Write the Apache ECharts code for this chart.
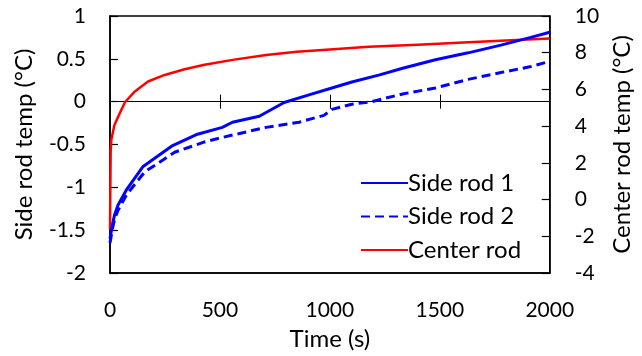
<!DOCTYPE html>
<html>
<head>
<meta charset="utf-8">
<script src="https://cdn.jsdelivr.net/npm/echarts@6/dist/echarts.min.js"></script>
<style>
  html, body { margin: 0; padding: 0; background: #fff; }
  #chart { width: 642px; height: 356px; }
</style>
</head>
<body>
<div id="chart"></div>
<script>
// values
const sideTime1 = [0, 10, 20, 36, 77, 149, 280, 398, 511, 557, 679, 792, 905, 1009, 1100, 1222, 1331, 1480, 1629, 1778, 1914, 2000];
const side1 = [-1.6, -1.45, -1.33, -1.21, -1.02, -0.76, -0.52, -0.38, -0.3, -0.24, -0.17, -0.01, 0.08, 0.16, 0.23, 0.31, 0.39, 0.49, 0.57, 0.66, 0.75, 0.81];

const sideTime2 = [0, 10, 20, 36, 77, 158, 294, 430, 507, 557, 710, 860, 973, 1009, 1100, 1190, 1331, 1480, 1629, 1778, 1914, 2000];
const side2 = [-1.65, -1.5, -1.38, -1.27, -1.08, -0.82, -0.59, -0.47, -0.42, -0.39, -0.3, -0.24, -0.16, -0.09, -0.03, 0.0, 0.09, 0.16, 0.26, 0.34, 0.41, 0.47];

const centerTime = [0, 3, 6, 12, 20, 38, 68, 113, 173, 249, 339, 430, 558, 710, 850, 1000, 1177, 1400, 1584, 1800, 2000];
const center = [-1.64, 2.6, 3.25, 3.6, 4.05, 4.54, 5.3, 5.89, 6.43, 6.79, 7.1, 7.34, 7.61, 7.88, 8.05, 8.18, 8.32, 8.44, 8.54, 8.66, 8.78];

const seriesNames = ["Side rod 1", "Side rod 2", "Center rod"];

const zip = (xs, ys) => xs.map((x, i) => [x, ys[i]]);
const font = "Lato";
const black = "#000";

const chart = echarts.init(document.getElementById("chart"), null, { renderer: "canvas" });

chart.setOption({
  animation: false,
  backgroundColor: "#fff",
  textStyle: { fontFamily: font },
  grid: {
    left: 110,
    right: 90,
    top: 16,
    bottom: 81,
    show: true,
    borderColor: black,
    borderWidth: 1.5,
    backgroundColor: "transparent",
  },
  legend: {
    orient: "vertical",
    left: 355,
    top: 166,
    itemWidth: 47,
    itemHeight: 14,
    itemGap: 9.5,
    data: seriesNames,
    itemStyle: { opacity: 0 },
    textStyle: { fontSize: 24, color: black, fontFamily: font, lineHeight: 24, padding: [0, 0, 0, -5] },
  },
  xAxis: [
    {
      type: "value",
      min: 0,
      max: 2000,
      interval: 500,
      position: "bottom",
      name: "Time (s)",
      nameLocation: "middle",
      nameGap: 54,
      nameTextStyle: { fontSize: 24, color: black, fontFamily: font },
      axisLine: { onZero: false, lineStyle: { color: black, width: 1.5 } },
      axisTick: { show: false },
      axisLabel: { fontSize: 21, color: black, margin: 27, fontFamily: font, formatter: (v) => String(v) },
      splitLine: { show: false },
    },
    {
      type: "value",
      min: 0,
      max: 2000,
      interval: 500,
      position: "bottom",
      axisLine: { onZero: true, onZeroAxisIndex: 0, lineStyle: { color: black, width: 1 } },
      axisTick: { show: true, inside: true, length: 7, lineStyle: { color: black, width: 1 } },
      axisLabel: { show: false },
      splitLine: { show: false },
    },
    {
      type: "value",
      min: 0,
      max: 2000,
      interval: 500,
      position: "bottom",
      axisLine: { onZero: true, onZeroAxisIndex: 0, lineStyle: { color: black, width: 1 } },
      axisTick: { show: true, inside: false, length: 7, lineStyle: { color: black, width: 1 } },
      axisLabel: { show: false },
      splitLine: { show: false },
    },
  ],
  yAxis: [
    {
      type: "value",
      min: -2,
      max: 1,
      interval: 0.5,
      position: "left",
      name: "Side rod temp (°C)",
      nameLocation: "middle",
      nameRotate: 90,
      nameGap: 74,
      nameTextStyle: { fontSize: 24, color: black, fontFamily: font },
      axisLine: { onZero: false, lineStyle: { color: black, width: 1.5 } },
      axisTick: { show: true, inside: true, length: 8, lineStyle: { color: black, width: 1.2 } },
      axisLabel: { fontSize: 21, color: black, margin: 24, fontFamily: font },
      splitLine: { show: false },
    },
    {
      type: "value",
      min: -4,
      max: 10,
      interval: 2,
      position: "right",
      name: "Center rod temp (°C)",
      nameLocation: "middle",
      nameRotate: 90,
      nameGap: 60,
      nameTextStyle: { fontSize: 24, color: black, fontFamily: font },
      axisLine: { onZero: false, lineStyle: { color: black, width: 1.5 } },
      axisTick: { show: true, inside: true, length: 8, lineStyle: { color: black, width: 1.2 } },
      axisLabel: { fontSize: 21, color: black, margin: 25, fontFamily: font },
      splitLine: { show: false },
    },
  ],
  series: [
    {
      name: seriesNames[0],
      type: "line",
      yAxisIndex: 0,
      symbol: "none",
      data: zip(sideTime1, side1),
      lineStyle: { color: "#0000ff", width: 3 },
      itemStyle: { color: "#0000ff" },
      z: 4,
    },
    {
      name: seriesNames[1],
      type: "line",
      yAxisIndex: 0,
      symbol: "none",
      data: zip(sideTime2, side2),
      lineStyle: { color: "#0000ff", width: 3, type: [9, 5] },
      itemStyle: { color: "#0000ff" },
      z: 4,
    },
    {
      name: seriesNames[2],
      type: "line",
      yAxisIndex: 1,
      symbol: "none",
      data: zip(centerTime, center),
      lineStyle: { color: "#ff0000", width: 2.5, join: "round" },
      itemStyle: { color: "#ff0000" },
      z: 3,
    },
  ],
});
</script>
</body>
</html>
